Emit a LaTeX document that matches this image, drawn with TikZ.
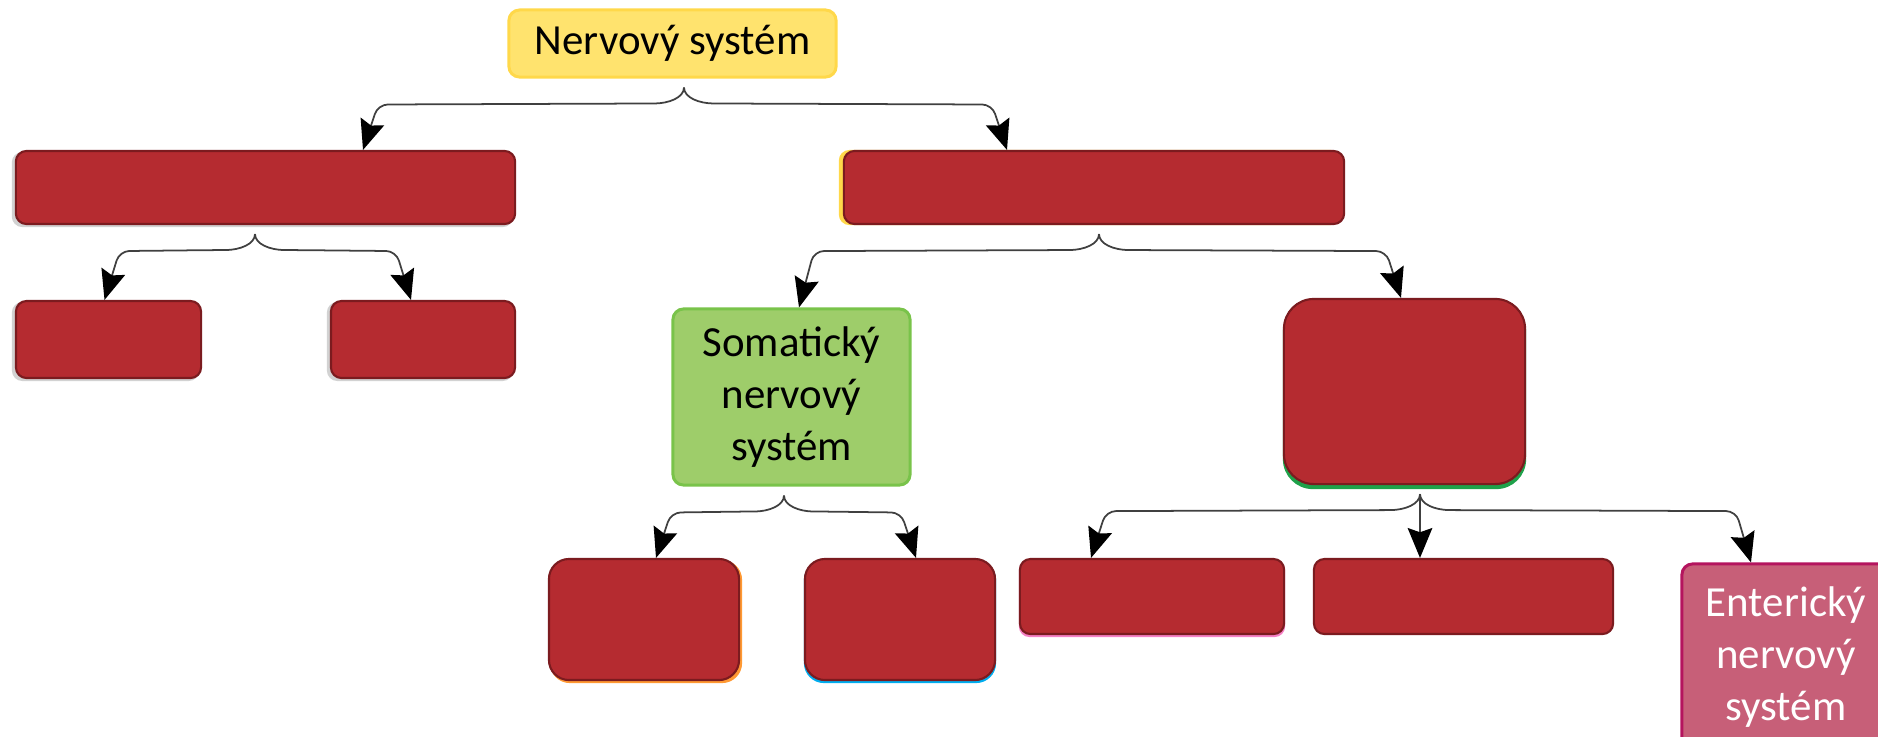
\documentclass[tikz,border=0pt]{standalone}
\usepackage{fontspec}
\setmainfont{Carlito}
\usetikzlibrary{arrows.meta,calc,backgrounds}
\definecolor{boxred}{HTML}{B52B30}
\definecolor{boxedge}{HTML}{7B1B1F}
\definecolor{nsyellow}{HTML}{FFE36E}
\definecolor{nsyellowedge}{HTML}{FFD84A}
\definecolor{snsgreen}{HTML}{9ECD6A}
\definecolor{snsgreenedge}{HTML}{79C34A}
\definecolor{entpink}{HTML}{C75F78}
\definecolor{entpinkedge}{HTML}{B4145E}
\definecolor{ghostgreen}{HTML}{1FA14A}

\begin{document}
\begin{tikzpicture}[x=0.01cm,y=-0.01cm,>={Stealth[length=8.5pt,width=7pt,inset=1.2pt,black]},
  box/.style={rectangle,rounded corners=3pt,inner sep=0pt,align=center,
    font=\fontsize{12.2}{14.9}\selectfont},
  hidden/.style={box,fill=boxred,draw=boxedge,line width=0.6pt},
  link/.style={->,draw=black!75,line width=0.5pt,rounded corners=2.8pt}]
  \useasboundingbox (0,0) rectangle (1878,736);
  \clip (0,0) rectangle (1878,736);
  % boxes
  \node[box,fill=nsyellow,draw=nsyellowedge,line width=0.85pt,minimum width=3.27cm,minimum height=0.67cm] (ns) at (672.5,43.5) {Nervový systém};
  \node[hidden,minimum width=4.99cm,minimum height=0.73cm] (cns) at (265.5,187.5) {};
  \node[hidden,minimum width=5cm,minimum height=0.73cm] (pns) at (1094,187.5) {};
  \node[hidden,minimum width=1.85cm,minimum height=0.77cm] (l1) at (108.5,339.5) {};
  \node[hidden,minimum width=1.84cm,minimum height=0.77cm] (l2) at (423,339.5) {};
  \node[box,fill=snsgreen,draw=snsgreenedge,line width=0.85pt,minimum width=2.37cm,minimum height=1.76cm] (sns) at (791.5,397) {Somatický\\nervový\\systém};
  \node[hidden,rounded corners=8.5pt,minimum width=2.41cm,minimum height=1.85cm] (ans) at (1404.5,391.5) {};
  \node[hidden,rounded corners=5.7pt,minimum width=1.9cm,minimum height=1.21cm] (b1) at (644,619.5) {};
  \node[hidden,rounded corners=5.7pt,minimum width=1.9cm,minimum height=1.21cm] (b2) at (900,619.5) {};
  \node[hidden,minimum width=2.64cm,minimum height=0.75cm] (r1) at (1152,596.5) {};
  \node[hidden,minimum width=2.99cm,minimum height=0.75cm] (r2) at (1463.5,596.5) {};
  \node[box,fill=entpink,draw=entpinkedge,line width=0.85pt,text=white,minimum width=2.08cm,minimum height=1.86cm] (ent) at (1786,657) {Enterický\\nervový\\systém};
  % coloured edges peeking out behind the red boxes
  \begin{scope}[on background layer]
    \foreach \n/\c/\r/\dx/\dy in {cns/gray!35/3/-3/2, l1/gray!35/3/-3/2, l2/gray!35/3/-3/2,
      pns/nsyellowedge/3/-4/0, ans/ghostgreen/8.5/0/4, b1/orange!80/5.7/2/2,
      b2/cyan/5.7/0/2, r1/magenta!50/3/0/2}
      \fill[\c,rounded corners=\r pt] ($(\n.north west)+(\dx,\dy)$) rectangle ($(\n.south east)+(\dx,\dy)$);
  \end{scope}
  % braces and arrows
  \foreach \p/\tx/\c/\s/\dx in {ns/11.5/cns/-1/97.5, ns/11.5/pns/1/-87,
    cns/-10.5/l1/-1/-4, cns/-10.5/l2/1/-12, pns/5/sns/-1/7.5, pns/5/ans/1/-3.5,
    sns/-7.5/b1/-1/12, sns/-7.5/b2/1/16, ans/15.5/r1/-1/-61, ans/15.5/ent/1/-35}{
    \path ($(\p.south)+(\tx,9)$) coordinate (t) ($(\c.north)+(\dx,0)$) coordinate (e);
    \draw[link] (t) .. controls +(0,10) and +({-25*\s},0) .. ($(t)+({40*\s},16)$)
      -- ($(e |- t)+({-15*\s},17)$) -- (e);
  }
  \draw[link] ($(ans.south)+(15.5,9)$) -- ($(r2.north)+(-43.5,0)$);
\end{tikzpicture}
\end{document}
